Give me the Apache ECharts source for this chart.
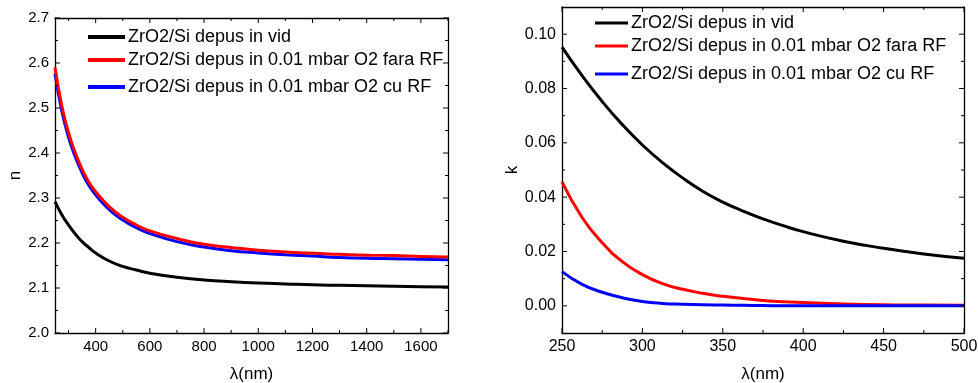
<!DOCTYPE html>
<html>
<head>
<meta charset="utf-8">
<script src="https://cdn.jsdelivr.net/npm/echarts@6/dist/echarts.min.js"></script>
<style>
html,body{margin:0;padding:0;background:#fff;}
#c{width:978px;height:383px;}
</style>
</head>
<body>
<div id="c"></div>
<script>
// ---- data: refractive index n ----
const nLambda = [250, 275, 300, 325, 350, 375, 400, 450, 500, 550, 600, 700, 800, 900, 1000, 1100, 1200, 1300, 1400, 1500, 1600, 1700];
const nVid  = [2.292, 2.263, 2.240, 2.220, 2.203, 2.190, 2.178, 2.160, 2.148, 2.140, 2.133, 2.124, 2.118, 2.114, 2.111, 2.109, 2.107, 2.106, 2.105, 2.104, 2.103, 2.102];
const nFara = [2.590, 2.505, 2.445, 2.400, 2.364, 2.335, 2.314, 2.281, 2.257, 2.240, 2.227, 2.210, 2.197, 2.190, 2.184, 2.180, 2.177, 2.175, 2.173, 2.172, 2.170, 2.169];
const nCu   = [2.576, 2.494, 2.435, 2.391, 2.356, 2.328, 2.307, 2.274, 2.251, 2.234, 2.221, 2.203, 2.191, 2.183, 2.178, 2.174, 2.171, 2.168, 2.166, 2.165, 2.164, 2.163];

// ---- data: extinction coefficient k ----
const kLambda = [250, 262.5, 275, 287.5, 300, 312.5, 325, 337.5, 350, 362.5, 375, 387.5, 400, 425, 450, 475, 500];
const kVid  = [0.0952, 0.0847, 0.0752, 0.0667, 0.0592, 0.0527, 0.0471, 0.0422, 0.0382, 0.0349, 0.0320, 0.0295, 0.0273, 0.0238, 0.0212, 0.0191, 0.0175];
const kFara = [0.0456, 0.0325, 0.0232, 0.0163, 0.0115, 0.0082, 0.0061, 0.0046, 0.0035, 0.0027, 0.0020, 0.0015, 0.0012, 0.0007, 0.0004, 0.0003, 0.0002];
const kCu   = [0.0126, 0.0079, 0.0050, 0.0030, 0.0016, 0.0009, 0.0006, 0.0004, 0.0003, 0.0002, 0.0001, 0.0000, 0.0000, 0.0000, 0.0000, 0.0000, 0.0000];

const seriesNames = ['ZrO2/Si depus in vid', 'ZrO2/Si depus in 0.01 mbar O2 fara RF', 'ZrO2/Si depus in 0.01 mbar O2 cu RF'];
const seriesColors = ['#000000', '#ff0000', '#0000ff'];

// ---- axis ranges and tick values ----
const nXRange = [250, 1700];
const nYRange = [2.0, 2.7];
const kXRange = [250, 500];
const kYRange = [-0.01, 0.11];
const nXMajor = [400, 600, 800, 1000, 1200, 1400, 1600];
const nXMinor = [300, 500, 700, 900, 1100, 1300, 1500, 1700];
const nYMajor = [2.0, 2.1, 2.2, 2.3, 2.4, 2.5, 2.6, 2.7];
const nYMinor = [2.05, 2.15, 2.25, 2.35, 2.45, 2.55, 2.65];
const kXMajor = [250, 300, 350, 400, 450, 500];
const kXMinor = [275, 325, 375, 425, 475];
const kYMajor = [0.00, 0.02, 0.04, 0.06, 0.08, 0.10];
const kYMinor = [0.01, 0.03, 0.05, 0.07, 0.09];

const FONT = '"Liberation Sans", Arial, sans-serif';

function axesFor(dim, grid, range, majors, fmt, name, nameGap, labelSize) {
  const isX = dim === 'x';
  const line = {show: true, onZero: false, lineStyle: {color: '#000', width: 1.3}};
  const base = {type: 'value', gridIndex: grid, min: range[0], max: range[1], splitLine: {show: false}, axisTick: {show: false}};
  return [
    Object.assign({}, base, {
      position: isX ? 'bottom' : 'left', axisLine: line,
      axisLabel: {show: true, customValues: majors, formatter: fmt, color: '#000', fontSize: labelSize, fontFamily: FONT, margin: 6},
      name: name, nameLocation: 'middle', nameGap: nameGap,
      nameTextStyle: {color: '#000', fontSize: 17, fontFamily: FONT}
    }),
    Object.assign({}, base, {position: isX ? 'top' : 'right', axisLine: line, axisLabel: {show: false}})
  ];
}

const xAxes = [].concat(
  axesFor('x', 0, nXRange, nXMajor, v => String(Math.round(v)), 'λ(nm)', 33, 15),
  axesFor('x', 1, kXRange, kXMajor, v => String(Math.round(v)), 'λ(nm)', 33, 16)
);
const yAxes = [].concat(
  axesFor('y', 0, nYRange, nYMajor, v => v.toFixed(1), 'n', 30, 15),
  axesFor('y', 1, kYRange, kYMajor, v => v.toFixed(2), 'k', 41, 16)
);

function zip(xs, ys) { return xs.map((x, i) => [x, ys[i]]); }

// tick marks (inward, on all four sides), drawn through the axes' scales
function tickData(xMaj, xMin, yMaj, yMin) {
  const d = [];
  xMaj.forEach(v => d.push([v, 1, 0]));
  xMin.forEach(v => d.push([v, 0, 0]));
  yMaj.forEach(v => d.push([v, 1, 1]));
  yMin.forEach(v => d.push([v, 0, 1]));
  return d;
}
function tickSeries(axisIdx, xr, yr, data) {
  return {
    type: 'custom', xAxisIndex: axisIdx, yAxisIndex: axisIdx, silent: true, clip: false, z: 10,
    data: data,
    renderItem: function (params, api) {
      const v = api.value(0), major = api.value(1), isY = api.value(2);
      const len = major ? 5 : 3;
      const st = {stroke: '#000', lineWidth: 1};
      let a, b;
      if (!isY) {
        a = api.coord([v, yr[0]]); b = api.coord([v, yr[1]]);
        return {type: 'group', children: [
          {type: 'line', shape: {x1: a[0], y1: a[1], x2: a[0], y2: a[1] - len}, style: st},
          {type: 'line', shape: {x1: b[0], y1: b[1], x2: b[0], y2: b[1] + len}, style: st}
        ]};
      } else {
        a = api.coord([xr[0], v]); b = api.coord([xr[1], v]);
        return {type: 'group', children: [
          {type: 'line', shape: {x1: a[0], y1: a[1], x2: a[0] + len, y2: a[1]}, style: st},
          {type: 'line', shape: {x1: b[0], y1: b[1], x2: b[0] - len, y2: b[1]}, style: st}
        ]};
      }
    }
  };
}

const series = [];
[nVid, nFara, nCu].forEach((arr, i) => series.push({
  type: 'line', name: seriesNames[i], xAxisIndex: 0, yAxisIndex: 0,
  data: zip(nLambda, arr), showSymbol: false, smooth: 0.5,
  lineStyle: {color: seriesColors[i], width: 3}, itemStyle: {color: seriesColors[i]}, z: i === 1 ? 4 : 3
}));
[kVid, kFara, kCu].forEach((arr, i) => series.push({
  type: 'line', name: seriesNames[i], xAxisIndex: 2, yAxisIndex: 2,
  data: zip(kLambda, arr), showSymbol: false, smooth: 0.5,
  lineStyle: {color: seriesColors[i], width: 3}, itemStyle: {color: seriesColors[i]}
}));
series.push(tickSeries(0, nXRange, nYRange, tickData(nXMajor, nXMinor, nYMajor, nYMinor)));
series.push(tickSeries(2, kXRange, kYRange, tickData(kXMajor, kXMinor, kYMajor, kYMinor)));

function legendAt(name, left, centerY, w, h) {
  return {
    data: [name], left: left, top: centerY - 10, padding: 0,
    icon: 'rect', itemWidth: w, itemHeight: h, itemGap: 0, selectedMode: false,
    textStyle: {color: '#000', fontSize: 18, fontFamily: FONT, padding: [0, 0, 0, -2]}
  };
}

const option = {
  animation: false,
  backgroundColor: '#fff',
  grid: [
    {left: 55, top: 18, width: 393, height: 315, outerBoundsMode: 'none', containLabel: false},
    {left: 562, top: 7, width: 402, height: 326, outerBoundsMode: 'none', containLabel: false}
  ],
  xAxis: xAxes,
  yAxis: yAxes,
  legend: [
    legendAt(seriesNames[0], 88, 38, 37, 4),
    legendAt(seriesNames[1], 88, 61, 37, 4),
    legendAt(seriesNames[2], 88, 88, 37, 4),
    legendAt(seriesNames[0], 595, 24, 33, 3),
    legendAt(seriesNames[1], 595, 47, 33, 3),
    legendAt(seriesNames[2], 595, 75, 33, 3)
  ],
  series: series
};

const chart = echarts.init(document.getElementById('c'), null, {renderer: 'canvas'});
chart.setOption(option);
</script>
</body>
</html>
